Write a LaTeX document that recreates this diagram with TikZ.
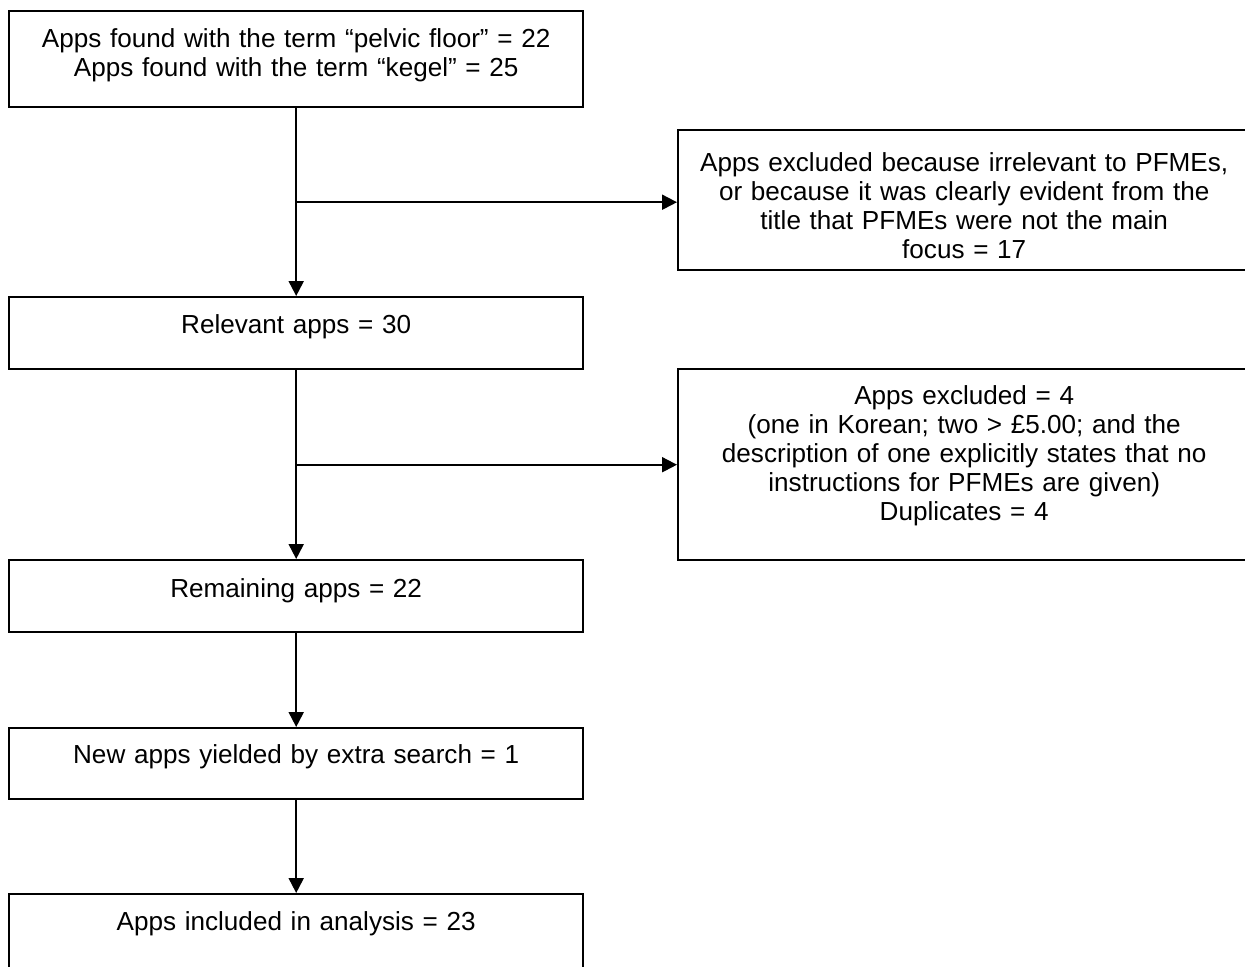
\documentclass[tikz,border=0pt]{standalone}
\usepackage{fontspec}
\setmainfont{Liberation Sans}
\usetikzlibrary{arrows.meta,calc}

\tikzset{
  flowbox/.style={draw, line width=1.2pt, anchor=north west, align=center,
    inner sep=0pt, font=\fontsize{13.05}{14.5}\selectfont},
  leftbox/.style={flowbox, text width=287pt},
  rightbox/.style={flowbox, text width=286pt},
  flow/.style={-{Triangle[length=7.5pt,width=7.5pt]}, line width=1pt}
}

\begin{document}
\begin{tikzpicture}[x=0.5pt, y=-0.5pt]
    % Page frame (the right boxes and the last box run off it)
    \clip (0,0) rectangle (1245,966);

    % Main column
    \node[leftbox, text height=18pt, text depth=30pt] (found) at (8,10)
        {Apps found with the term “pelvic floor” = 22\\Apps found with the term “kegel” = 25};
    \node[leftbox, text height=18pt, text depth=18pt] (relevant) at (8,296) {Relevant apps = 30};
    \node[leftbox, text height=18.5pt, text depth=17.5pt] (remaining) at (8,559) {Remaining apps = 22};
    \node[leftbox, text height=17.5pt, text depth=18pt] (extra) at (8,727) {New apps yielded by extra search = 1};
    \node[leftbox, text height=18pt, text depth=20pt] (included) at (8,893) {Apps included in analysis = 23};

    % Exclusion boxes
    \node[rightbox, text height=20.5pt, text depth=49.5pt] (irrelevant) at (677,129)
        {Apps excluded because irrelevant to PFMEs,\\or because it was clearly evident from the\\title that PFMEs were not the main\\focus = 17};
    \node[rightbox, text height=17.5pt, text depth=78pt] (excluded) at (677,368)
        {Apps excluded = 4\\(one in Korean; two > £5.00; and the\\description of one explicitly states that no\\instructions for PFMEs are given)\\Duplicates = 4};

    % Arrows down the main column
    \foreach \a/\b in {found/relevant, relevant/remaining, remaining/extra, extra/included}
        \draw[flow] (\a) -- (\b);

    % Side branches
    \coordinate (split1) at ($(found.south)!0.5!(relevant.north)$);
    \coordinate (split2) at ($(relevant.south)!0.5!(remaining.north)$);
    \draw[flow] (split1) -- (split1 -| irrelevant.west);
    \draw[flow] (split2) -- (split2 -| excluded.west);
\end{tikzpicture}
\end{document}
